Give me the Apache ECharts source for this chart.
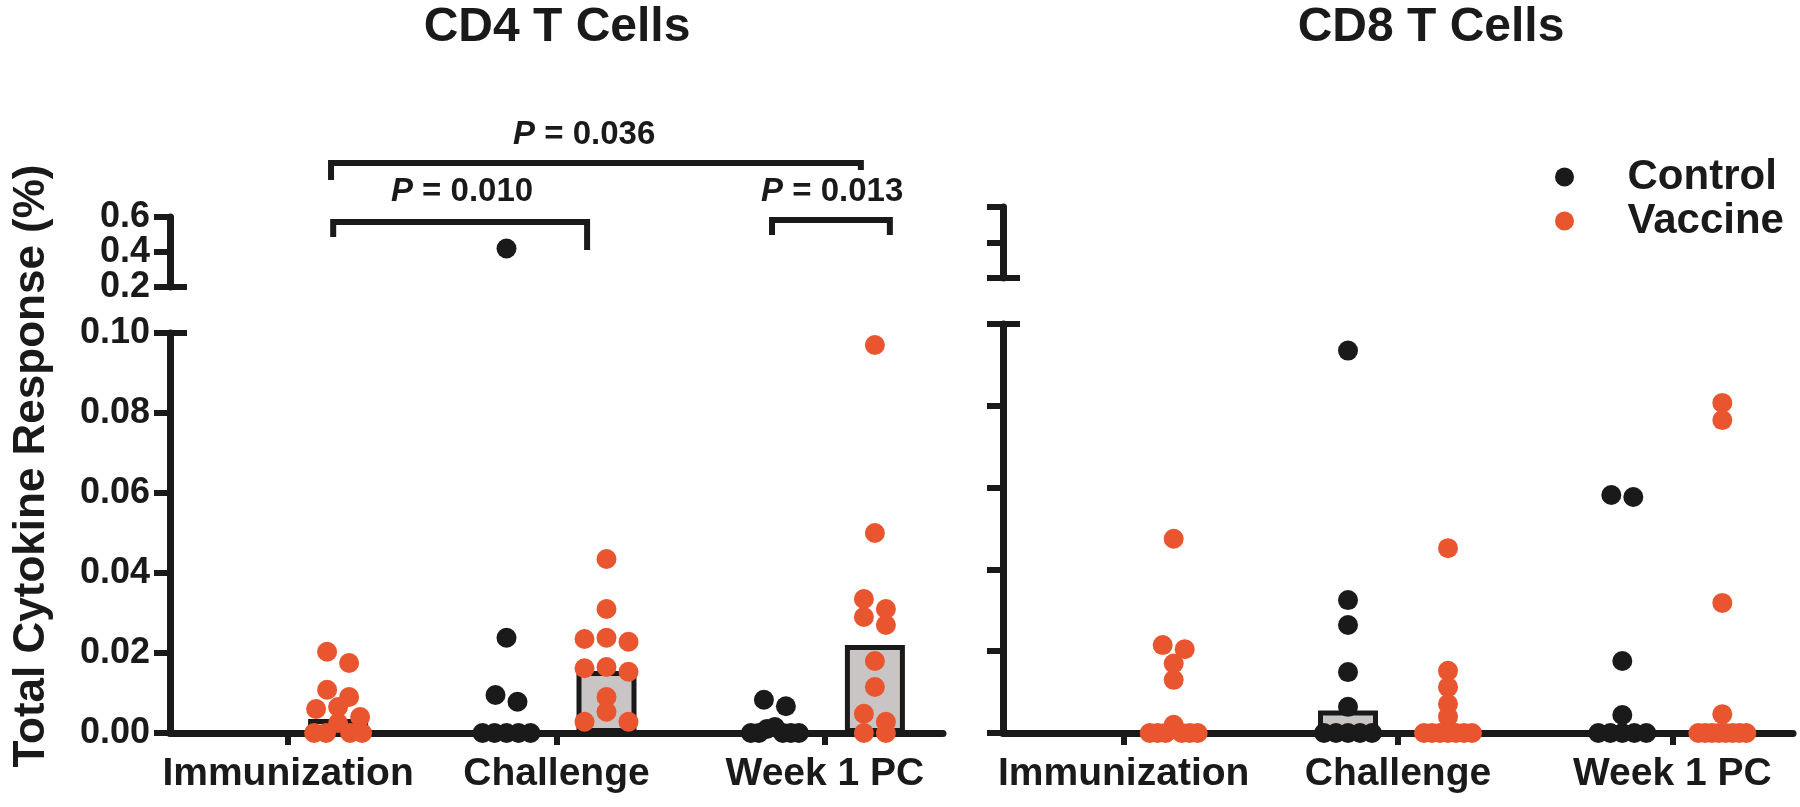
<!DOCTYPE html>
<html>
<head>
<meta charset="utf-8">
<script src="https://cdn.jsdelivr.net/npm/echarts@6/dist/echarts.min.js"></script>
<style>
html,body{margin:0;padding:0;background:#fff;}
#chart{width:1800px;height:807px;}
</style>
</head>
<body>
<div id="chart"></div>
<script>
// ---------------- DATA ----------------
const categories = ['Immunization', 'Challenge', 'Week 1 PC'];
const panelTitles = ['CD4 T Cells', 'CD8 T Cells'];
const yAxisTitle = 'Total Cytokine Response (%)';
const lowerTicks = [0, 0.02, 0.04, 0.06, 0.08, 0.10];
const upperTicks = [0.2, 0.4, 0.6];

// CD4 values per category (Immunization, Challenge, Week 1 PC)
const cd4Control = [
  [],
  [0.42, 0.0238, 0.0095, 0.0078, 0, 0, 0, 0, 0],
  [0.0083, 0.0067, 0.0015, 0.001, 0, 0, 0, 0, 0]
];
const cd4Vaccine = [
  [0.0203, 0.0175, 0.0108, 0.009, 0.0065, 0.006, 0.004, 0.0025, 0, 0, 0, 0],
  [0.0435, 0.031, 0.0238, 0.0235, 0.0228, 0.0165, 0.0162, 0.0153, 0.009, 0.0053, 0.0028, 0.0028],
  [0.097, 0.050, 0.0335, 0.031, 0.029, 0.027, 0.018, 0.0115, 0.0048, 0.0028, 0, 0]
];
const cd4ControlBar = [null, 0, 0];
const cd4VaccineBar = [0.0035, 0.0155, 0.022];

// CD8 values per category
const cd8Control = [
  [],
  [0.0935, 0.0325, 0.0264, 0.0149, 0.0064, 0, 0, 0, 0, 0],
  [0.0582, 0.0577, 0.0176, 0.0044, 0, 0, 0, 0, 0]
];
const cd8Vaccine = [
  [0.0475, 0.0215, 0.0205, 0.017, 0.013, 0.002, 0, 0, 0, 0, 0, 0],
  [0.0452, 0.0152, 0.0112, 0.0071, 0.004, 0, 0, 0, 0, 0, 0, 0],
  [0.0807, 0.0765, 0.0318, 0.0046, 0, 0, 0, 0, 0, 0, 0, 0]
];
const cd8ControlBar = [null, 0.0055, 0];
const cd8VaccineBar = [0, 0, 0];

// P-value comparisons for CD4
const pValues = ['0.036', '0.010', '0.013'];

// ---------------- LAYOUT / STYLE ----------------
const FONT = '"Liberation Sans", Arial, Helvetica, sans-serif';
const INK = '#1a1a1a';
const ORANGE = '#E9552F';
const BARFILL = '#C9C5C4';
const XMIN = -0.44, XMAX = 2.44;
const GROUP_OFF_PX = 50;
const DOT = 20;
const SWARM_MAXW = 48;
const BREAK_VALUE = 0.1;
const AXIS_W = 7, TICK_W = 6, BRACKET_W = 6;

const panels = [
  {left: 170, width: 773, lowTop: 333, lowH: 400, upTop: 217, upH: 70, labels: true,
   control: cd4Control, vaccine: cd4Vaccine, cBar: cd4ControlBar, vBar: cd4VaccineBar},
  {left: 1003, width: 790, lowTop: 324, lowH: 409, upTop: 207, upH: 71, labels: false,
   control: cd8Control, vaccine: cd8Vaccine, cBar: cd8ControlBar, vBar: cd8VaccineBar}
];

// Bracket geometry in CD4 upper-axis units
const brackets = [
  {x1: 0.16, x2: 2.134, y: 0.909, d1: 0.811, d2: 0.869, lx: 1.103, ly: 1.069},
  {x1: 0.168, x2: 1.114, y: 0.571, d1: 0.486, d2: 0.411, lx: 0.648, ly: 0.743},
  {x1: 1.803, x2: 2.242, y: 0.583, d1: 0.497, d2: 0.497, lx: 2.027, ly: 0.743}
];

// ---------------- HELPERS ----------------
function swarm(values, pxPerY) {
  const sorted = values.slice().sort((a, b) => b - a);
  const rows = [];
  let cur = null;
  sorted.forEach(v => {
    if (cur && Math.abs(cur[0] - v) * pxPerY <= DOT * 0.6) cur.push(v);
    else { cur = [v]; rows.push(cur); }
  });
  const out = [];
  rows.forEach(row => {
    const n = row.length;
    const s = n > 1 ? Math.min(DOT * 1.1, SWARM_MAXW / (n - 1)) : 0;
    const pos = [];
    for (let k = 0; k < n; k++) pos.push((k - (n - 1) / 2) * s);
    pos.sort((a, b) => Math.abs(a) - Math.abs(b) || a - b);
    row.forEach((v, k) => out.push([pos[k], v]));
  });
  return out;
}

const grids = [], xAxes = [], yAxes = [], series = [];
const labelStyle = {fontFamily: FONT, fontWeight: 'bold', color: INK};
const upperMin = upperTicks[0], upperMax = upperTicks[upperTicks.length - 1];
const upperEnds = [upperMin, upperMax];
const upperMid = upperTicks.slice(1, -1);

panels.forEach((P, p) => {
  const gLow = 2 * p, gUp = 2 * p + 1;
  grids.push({left: P.left, top: P.lowTop, width: P.width, height: P.lowH});
  grids.push({left: P.left, top: P.upTop, width: P.width, height: P.upH});

  xAxes.push({
    gridIndex: gLow, type: 'value', min: XMIN, max: XMAX,
    axisLine: {show: true, onZero: false, lineStyle: {color: INK, width: AXIS_W}},
    axisTick: {show: true, inside: false, length: 12, customValues: [0, 1, 2], lineStyle: {color: INK, width: TICK_W}},
    axisLabel: Object.assign({show: true, fontSize: 39, margin: 22, customValues: [0, 1, 2],
      formatter: v => categories[Math.round(v)]}, labelStyle),
    splitLine: {show: false}
  });
  xAxes.push({gridIndex: gUp, type: 'value', min: XMIN, max: XMAX, show: false, splitLine: {show: false}});

  const yCommon = {
    type: 'value', position: 'left', offset: 0,
    axisLine: {show: true, onZero: false, lineStyle: {color: INK, width: AXIS_W}},
    splitLine: {show: false}
  };
  yAxes.push(Object.assign({}, yCommon, {
    gridIndex: gLow, min: lowerTicks[0], max: lowerTicks[lowerTicks.length - 1], interval: 0.02,
    axisTick: {show: true, length: 16, customValues: lowerTicks, lineStyle: {color: INK, width: TICK_W}},
    axisLabel: Object.assign({show: P.labels, fontSize: 36, margin: 20, customValues: lowerTicks,
      hideOverlap: false, showMinLabel: true, showMaxLabel: true,
      formatter: v => v.toFixed(2)}, labelStyle)
  }));
  yAxes.push(Object.assign({}, yCommon, {
    gridIndex: gUp, min: upperMin, max: upperMax, interval: 0.2,
    axisTick: {show: true, length: 16, customValues: upperTicks, lineStyle: {color: INK, width: TICK_W}},
    axisLabel: Object.assign({show: P.labels, fontSize: 36, margin: 20, customValues: upperEnds,
      hideOverlap: false, showMinLabel: true, showMaxLabel: true,
      formatter: v => v.toFixed(1)}, labelStyle)
  }));
});

// label-only axes for the middle upper tick (avoids overlap hiding)
panels.forEach((P, p) => {
  const gUp = 2 * p + 1;
  yAxes.push({
    gridIndex: gUp, type: 'value', position: 'left', offset: 0, min: upperMin, max: upperMax, interval: 0.2,
    axisLine: {show: false, onZero: false}, axisTick: {show: false}, splitLine: {show: false},
    axisLabel: Object.assign({show: P.labels, fontSize: 36, margin: 20, customValues: upperMid,
      hideOverlap: false, formatter: v => v.toFixed(1)}, labelStyle)
  });
});

panels.forEach((P, p) => {
  const gLow = 2 * p, gUp = 2 * p + 1;
  const pxX = P.width / (XMAX - XMIN);
  const pxYLow = P.lowH / (lowerTicks[lowerTicks.length - 1] - lowerTicks[0]);
  const pxYUp = P.upH / (upperMax - upperMin);
  const off = GROUP_OFF_PX / pxX;

  const barData = [];
  categories.forEach((c, i) => {
    if (P.cBar[i] !== null) barData.push([i - off, P.cBar[i]]);
    if (P.vBar[i] !== null) barData.push([i + off, P.vBar[i]]);
  });
  series.push({
    type: 'bar', xAxisIndex: gLow, yAxisIndex: gLow, barWidth: 60, z: 1, silent: true,
    itemStyle: {color: BARFILL, borderColor: INK, borderWidth: 5},
    data: barData
  });

  [['Control', P.control, -1, INK], ['Vaccine', P.vaccine, 1, ORANGE]].forEach(([name, groups, sgn, color]) => {
    const low = [], up = [];
    groups.forEach((vals, i) => {
      const cx = i + sgn * off;
      swarm(vals.filter(v => v <= BREAK_VALUE), pxYLow).forEach(([dx, v]) => low.push([cx + dx / pxX, v]));
      swarm(vals.filter(v => v > BREAK_VALUE), pxYUp).forEach(([dx, v]) => up.push([cx + dx / pxX, v]));
    });
    series.push({name, type: 'scatter', xAxisIndex: gLow, yAxisIndex: gLow, symbol: 'circle',
      symbolSize: DOT, itemStyle: {color, opacity: 1}, z: 3, clip: false, data: low});
    series.push({name, type: 'scatter', xAxisIndex: gUp, yAxisIndex: gUp, symbol: 'circle',
      symbolSize: DOT, itemStyle: {color, opacity: 1}, z: 3, clip: false, data: up});
  });

  const nub = 17 / pxX;
  series.push({type: 'line', xAxisIndex: gLow, yAxisIndex: gLow, symbol: 'none', silent: true, z: 2,
    lineStyle: {color: INK, width: TICK_W}, data: [[XMIN, BREAK_VALUE], [XMIN + nub, BREAK_VALUE]]});
  series.push({type: 'line', xAxisIndex: gUp, yAxisIndex: gUp, symbol: 'none', silent: true, z: 2,
    lineStyle: {color: INK, width: TICK_W}, data: [[XMIN, upperMin], [XMIN + nub, upperMin]]});
});

brackets.forEach((b, k) => {
  series.push({type: 'line', xAxisIndex: 1, yAxisIndex: 1, symbol: 'none', silent: true, clip: false, z: 4,
    lineStyle: {color: INK, width: BRACKET_W, join: 'miter'},
    data: [[b.x1, b.d1], [b.x1, b.y], [b.x2, b.y], [b.x2, b.d2]]});
  series.push({type: 'scatter', xAxisIndex: 1, yAxisIndex: 1, symbolSize: 1, silent: true, clip: false, z: 4,
    itemStyle: {color: 'rgba(255,255,255,0)', opacity: 1},
    label: {show: true, position: 'inside', color: INK, opacity: 1, textBorderWidth: 0,
      formatter: '{i|P}{n| = ' + pValues[k] + '}',
      rich: {
        i: {fontFamily: FONT, fontSize: 33, fontWeight: 'bold', fontStyle: 'italic', color: INK},
        n: {fontFamily: FONT, fontSize: 33, fontWeight: 'bold', color: INK}
      }},
    data: [[b.lx, b.ly]]});
});

const option = {
  backgroundColor: '#ffffff',
  animation: false,
  grid: grids,
  xAxis: xAxes,
  yAxis: yAxes,
  legend: {
    data: ['Control', 'Vaccine'], orient: 'vertical', left: 1550, top: 151,
    itemWidth: 116, itemHeight: 19, itemGap: 2, icon: 'circle', selectedMode: false,
    textStyle: {fontFamily: FONT, fontWeight: 'bold', fontSize: 42, color: INK}
  },
  graphic: [
    {type: 'text', x: 557, y: 28, style: {text: panelTitles[0], font: 'bold 48px ' + FONT, fill: INK, textAlign: 'center', textVerticalAlign: 'middle'}},
    {type: 'text', x: 1431, y: 28, style: {text: panelTitles[1], font: 'bold 48px ' + FONT, fill: INK, textAlign: 'center', textVerticalAlign: 'middle'}},
    {type: 'text', x: 32, y: 466, rotation: Math.PI / 2, style: {text: yAxisTitle, font: 'bold 44px ' + FONT, fill: INK, textAlign: 'center', textVerticalAlign: 'middle'}}
  ],
  series: series
};

const chart = echarts.init(document.getElementById('chart'), null, {renderer: 'canvas'});
chart.setOption(option);
</script>
</body>
</html>
